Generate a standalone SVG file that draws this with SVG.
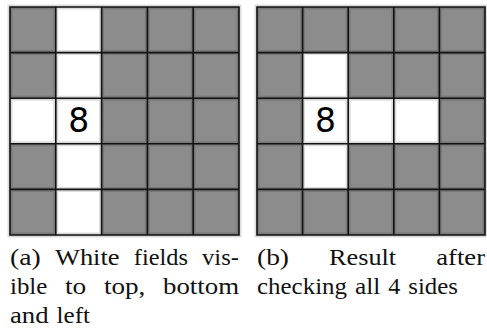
<svg xmlns="http://www.w3.org/2000/svg" width="487" height="329" viewBox="0 0 487 329">
<style>
.bg{fill:#8c8c8c}
.w{fill:#ffffff}
.shade{fill:none;stroke:#000;stroke-opacity:0.14;stroke-width:5}
.line{fill:none;stroke:#111;stroke-width:1.6}
.num{font-family:"DejaVu Sans",sans-serif;font-size:33px;fill:#000;text-anchor:middle}
.cap{font-family:"Liberation Serif","Times New Roman",serif;font-size:24px;fill:#111}
</style>
<rect width="487" height="329" fill="#fff"/>
<g id="panel-a">
  <rect class="bg" x="10" y="7" width="229" height="228"/>
  <rect class="w" x="55.8" y="7" width="45.8" height="228"/>
  <rect class="w" x="10" y="98.2" width="45.8" height="45.6"/>
  <path class="shade" d="M10 7H239V235H10Z M55.8 7V235 M101.6 7V235 M147.4 7V235 M193.2 7V235 M10 52.6H239 M10 98.2H239 M10 143.8H239 M10 189.4H239"/>
  <path class="line" d="M10 7H239V235H10Z M55.8 7V235 M101.6 7V235 M147.4 7V235 M193.2 7V235 M10 52.6H239 M10 98.2H239 M10 143.8H239 M10 189.4H239"/>
  <text class="num" x="78.7" y="131.7">8</text>
</g>
<g id="panel-b">
  <rect class="bg" x="257" y="7" width="228" height="228"/>
  <rect class="w" x="302.6" y="52.6" width="45.6" height="136.8"/>
  <rect class="w" x="348.2" y="98.2" width="91.2" height="45.6"/>
  <path class="shade" d="M257 7H485V235H257Z M302.6 7V235 M348.2 7V235 M393.8 7V235 M439.4 7V235 M257 52.6H485 M257 98.2H485 M257 143.8H485 M257 189.4H485"/>
  <path class="line" d="M257 7H485V235H257Z M302.6 7V235 M348.2 7V235 M393.8 7V235 M439.4 7V235 M257 52.6H485 M257 98.2H485 M257 143.8H485 M257 189.4H485"/>
  <text class="num" x="325.4" y="131.7">8</text>
</g>
<g id="caption-a" class="cap">
  <text y="265"><tspan x="10" textLength="30.7" lengthAdjust="spacingAndGlyphs">(a)</tspan><tspan x="54.9" textLength="64.7" lengthAdjust="spacingAndGlyphs">White</tspan><tspan x="133.8" textLength="54.1" lengthAdjust="spacingAndGlyphs">fields</tspan><tspan x="202.1" textLength="36.8" lengthAdjust="spacingAndGlyphs">vis-</tspan></text>
  <text y="294"><tspan x="10" textLength="37.3" lengthAdjust="spacingAndGlyphs">ible</tspan><tspan x="65" textLength="21.3" lengthAdjust="spacingAndGlyphs">to</tspan><tspan x="104" textLength="41.4" lengthAdjust="spacingAndGlyphs">top,</tspan><tspan x="163" textLength="76" lengthAdjust="spacingAndGlyphs">bottom</tspan></text>
  <text y="323"><tspan x="10" textLength="38.6" lengthAdjust="spacingAndGlyphs">and</tspan><tspan x="56.6" textLength="33.4" lengthAdjust="spacingAndGlyphs">left</tspan></text>
</g>
<g id="caption-b" class="cap">
  <text y="265"><tspan x="257" textLength="32" lengthAdjust="spacingAndGlyphs">(b)</tspan><tspan x="329" textLength="67.1" lengthAdjust="spacingAndGlyphs">Result</tspan><tspan x="436.3" textLength="48.7" lengthAdjust="spacingAndGlyphs">after</tspan></text>
  <text y="294"><tspan x="257" textLength="90" lengthAdjust="spacingAndGlyphs">checking</tspan><tspan x="355" textLength="25.3" lengthAdjust="spacingAndGlyphs">all</tspan><tspan x="388.3" textLength="12" lengthAdjust="spacingAndGlyphs">4</tspan><tspan x="408.3" textLength="49.6" lengthAdjust="spacingAndGlyphs">sides</tspan></text>
</g>
</svg>
